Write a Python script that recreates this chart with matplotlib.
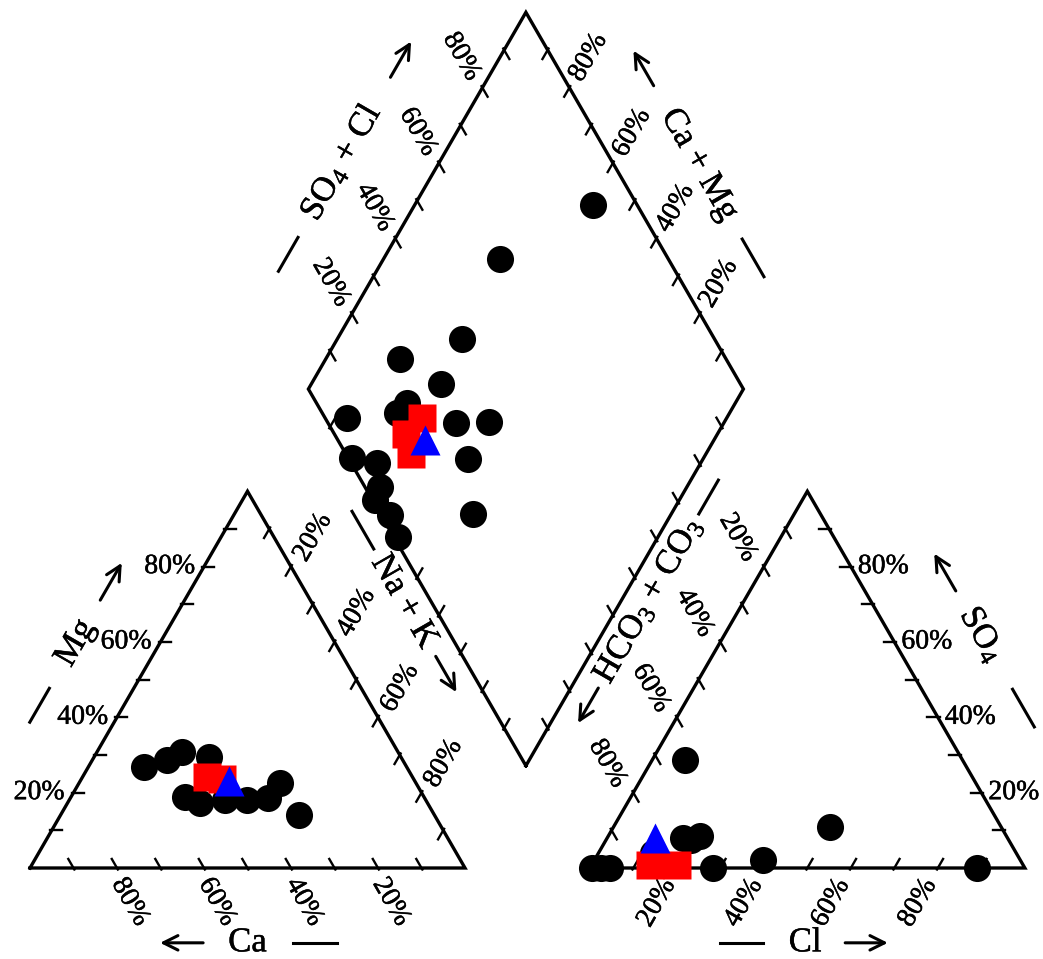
import numpy as np
import matplotlib.pyplot as plt
import matplotlib.patheffects as pe

plt.rcParams['font.family'] = 'Liberation Serif'
plt.rcParams['mathtext.fontset'] = 'custom'
plt.rcParams['mathtext.rm'] = 'Liberation Serif'
plt.rcParams['mathtext.it'] = 'Liberation Serif:italic'

# ── sample compositions (meq %) ──────────────────────────────────────────
# cation triangle
cat_mg = [26.8, 28.7, 30.8, 29.5, 18.8, 17.3, 18.1, 18.1, 18.6, 22.6, 14.1]
cat_nak = [12.8, 17.2, 19.5, 26.4, 26.2, 30.5, 35.8, 40.8, 45.4, 46.2, 54.8]
cat_mg_sq = [24.2, 23.6]
cat_nak_sq = [28.6, 32.3]
cat_mg_tri = [23.1]
cat_nak_tri = [34.2]

# anion triangle
an_so4 = [0.0, 0.0, 0.0, 0.0, 2.1, 0.0, 28.7, 10.9, 8.0, 8.5, 7.4, 4.0]
an_cl = [0.5, 2.5, 4.6, 28.3, 38.7, 89.0, 7.5, 49.8, 17.4, 21.1, 19.5, 12.5]
an_so4_sq = [0.8, 0.8]
an_cl_sq = [13.4, 19.6]
an_so4_tri = [8.0]
an_cl_tri = [11.0]

# diamond field
dia_camg = [59.0, 73.2, 71.3, 82.9, 70.2, 75.5, 76.5, 87.3, 61.6, 54.1, 54.0,
            45.6, 80.8, 74.4, 70.5, 70.0, 64.5, 59.8]
dia_so4cl = [89.9, 61.3, 42.0, 25.0, 31.2, 20.8, 17.2, 5.0, 29.4, 37.2, 27.4,
             21.3, 0.9, 6.0, 3.5, 0.6, 2.0, 1.0]
dia_camg_sq = [70.1, 71.6, 67.8]
dia_so4cl_sq = [22.3, 16.5, 15.0]
dia_camg_tri = [66.4]
dia_so4cl_tri = [20.0]

tick_vals = [20, 40, 60, 80]

# ── geometry ─────────────────────────────────────────────────────────────
H = np.sqrt(3) / 2
PX = 1 / 435.0           # one pixel in data units
X0R = 1.287              # left corner of the anion triangle
DB = np.array([1.14, 0.235])  # bottom corner of the diamond

L_A, L_B, L_C = np.array([0, 0]), np.array([1, 0]), np.array([0.5, H])
R_A, R_B, R_C = np.array([X0R, 0]), np.array([X0R + 1, 0]), np.array([X0R + 0.5, H])
D_B = DB
D_L = DB + np.array([-0.5, H])
D_R = DB + np.array([0.5, H])
D_T = DB + np.array([0, 2 * H])

HEAVY = [pe.withStroke(linewidth=0.35, foreground='k')]


def cat_xy(mg, nak):
    mg, nak = np.asarray(mg), np.asarray(nak)
    return (nak + mg / 2) / 100, mg / 100 * H


def an_xy(so4, cl):
    so4, cl = np.asarray(so4), np.asarray(cl)
    return X0R + (cl + so4 / 2) / 100, so4 / 100 * H


def dia_xy(camg, so4cl):
    camg, so4cl = np.asarray(camg), np.asarray(so4cl)
    return DB[0] + (so4cl - camg) / 200, DB[1] + (so4cl + camg) / 100 * H


fig = plt.figure(figsize=(10.43, 9.59), dpi=100)
ax = fig.add_axes([0, 0, 1, 1])
ax.set_xlim(-30 * PX, 1013 * PX)
ax.set_ylim(-91 * PX, 868 * PX)
ax.axis('off')

LW = 2.4
for poly in ([L_A, L_B, L_C, L_A], [R_A, R_B, R_C, R_A], [D_B, D_R, D_T, D_L, D_B]):
    p = np.array(poly)
    ax.plot(p[:, 0], p[:, 1], color='k', lw=LW, solid_joinstyle='miter', zorder=3)


def edge_ticks(a, b, u):
    u = np.asarray(u, dtype=float)
    for t in np.arange(1, 10) / 10:
        p = a + t * (b - a)
        q0, q1 = p - 0.004 * u, p + 0.024 * u
        ax.plot([q0[0], q1[0]], [q0[1], q1[1]], color='k', lw=1.7, zorder=3)


edge_ticks(L_A, L_B, (-0.5, H))
edge_ticks(L_A, L_C, (1, 0))
edge_ticks(L_C, L_B, (-0.5, -H))
edge_ticks(R_A, R_B, (0.5, H))
edge_ticks(R_B, R_C, (-1, 0))
edge_ticks(R_C, R_A, (0.5, -H))
edge_ticks(D_L, D_T, (0.5, -H))
edge_ticks(D_R, D_T, (-0.5, -H))
edge_ticks(D_L, D_B, (0.5, H))
edge_ticks(D_R, D_B, (-0.5, H))

FS = 20


def pct(x, y, v, **kw):
    ax.text(x, y, f'{v}%', fontsize=FS, family='Liberation Serif',
            path_effects=HEAVY, **kw)


for v in tick_vals:
    t = v / 100
    # Mg
    p = L_A + t * (L_C - L_A)
    pct(p[0] - 9 * PX, p[1], v, ha='right', va='center')
    # Ca
    pct(1 - t + 13 * PX, -34 * PX, v, rotation=-60, ha='center', va='center')
    # Na + K
    p = L_C + t * (L_B - L_C)
    pct(p[0] + 22 * PX, p[1] + 29 * PX, v, rotation=60, ha='center', va='center')
    # Cl
    pct(X0R + t - 20 * PX, -35 * PX, v, rotation=60, ha='center', va='center')
    # SO4
    p = R_B + t * (R_C - R_B)
    pct(p[0] + 7 * PX, p[1], v, ha='left', va='center')
    # HCO3 + CO3
    p = R_C + t * (R_A - R_C)
    pct(p[0] - 26 * PX, p[1] + 29 * PX, v, rotation=-60, ha='center', va='center')
    # SO4 + Cl
    p = D_L + t * (D_T - D_L)
    pct(p[0] - 21 * PX, p[1] + 31 * PX, v, rotation=-60, ha='center', va='center')
    # Ca + Mg
    p = D_R + t * (D_T - D_R)
    pct(p[0] + 19 * PX, p[1] + 30 * PX, v, rotation=60, ha='center', va='center')


def axis_title(a, b, n, d, label, rot, ft, dash, arrow):
    a, b, n = np.asarray(a, float), np.asarray(b, float), np.asarray(n, float)
    pt = lambda f: a + f * (b - a) + d * n
    c = pt(ft)
    ax.text(c[0], c[1], label, fontsize=25, rotation=rot, ha='center', va='center',
            family='Liberation Serif', path_effects=HEAVY)
    p0, p1 = pt(dash[0]), pt(dash[1])
    ax.plot([p0[0], p1[0]], [p0[1], p1[1]], color='k', lw=2.2)
    s, e = pt(arrow[0]), pt(arrow[1])
    ax.annotate('', xy=e, xytext=s,
                arrowprops=dict(arrowstyle='->', lw=2.2, color='k',
                                mutation_scale=26, shrinkA=0, shrinkB=0))


axis_title(L_A, L_C, (-H, 0.5), 0.168, 'Mg', 60, 0.50, (0.29, 0.38), (0.614, 0.713))
axis_title(L_C, L_B, (H, 0.5), 0.185, 'Na + K', -60, 0.40, (0.16, 0.26), (0.545, 0.64))
axis_title(L_A, L_B, (0, -1), 0.172, 'Ca', 0, 0.50, (0.605, 0.706), (0.398, 0.299))
axis_title(R_A, R_B, (0, -1), 0.172, 'Cl', 0, 0.495, (0.299, 0.398), (0.587, 0.685))
axis_title(R_B, R_C, (H, 0.5), 0.181, 'SO$_{\\mathrm{4}}$', -60, 0.513, (0.27, 0.37), (0.631, 0.73))
axis_title(R_C, R_A, (-H, 0.5), 0.19, 'HCO$_{\\mathrm{3}}$ + CO$_{\\mathrm{3}}$', 60, 0.40,
           (0.08, 0.17), (0.632, 0.725))
axis_title(D_L, D_T, (-H, 0.5), 0.195, 'SO$_{\\mathrm{4}}$ + Cl', 60, 0.49,
           (0.20, 0.29), (0.715, 0.81))
axis_title(D_T, D_R, (H, 0.5), 0.17, 'Ca + Mg', -60, 0.503, (0.70, 0.80), (0.293, 0.20))

# ── samples ──────────────────────────────────────────────────────────────
MS = 19.5
for fn, circ, sq, tri in (
        (cat_xy, (cat_mg, cat_nak), (cat_mg_sq, cat_nak_sq), (cat_mg_tri, cat_nak_tri)),
        (an_xy, (an_so4, an_cl), (an_so4_sq, an_cl_sq), (an_so4_tri, an_cl_tri)),
        (dia_xy, (dia_camg, dia_so4cl), (dia_camg_sq, dia_so4cl_sq),
         (dia_camg_tri, dia_so4cl_tri))):
    x, y = fn(*circ)
    ax.plot(x, y, 'o', color='k', ms=MS, mec='none', zorder=4)
    x, y = fn(*sq)
    ax.plot(x, y, 's', color='#ff0000', ms=MS, mec='none', zorder=5)
    x, y = fn(*tri)
    ax.plot(x, y, '^', color='#0000ff', ms=22, mec='none', zorder=6)

fig.savefig('out.png', dpi=100)
